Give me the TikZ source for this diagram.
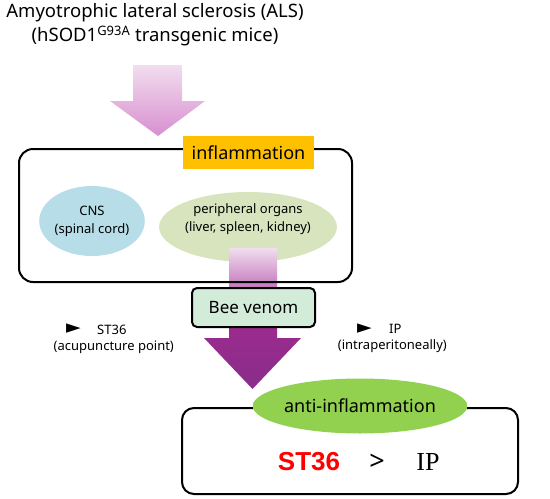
\documentclass[tikz,border=0pt]{standalone}
\usepackage{fontspec}
\setmainfont{Noto Sans}
\newfontfamily\symfont{DejaVu Sans}
\newfontfamily\ipfont{Liberation Serif}
\newfontfamily\boldfont{Liberation Sans}
\usepackage{xcolor}
\usepackage{tikz}
\usetikzlibrary{positioning,shapes.geometric}

\definecolor{labelorange}{HTML}{FFC000}
\definecolor{cnsblue}{HTML}{B7DDE8}
\definecolor{organgreen}{HTML}{D7E4BD}
\definecolor{beegreen}{HTML}{D3ECD9}
\definecolor{antigreen}{HTML}{92D050}
\definecolor{pinktop}{HTML}{F2DDEF}
\definecolor{pinkbot}{HTML}{D78FD0}
\definecolor{pinkmid}{HTML}{BE6CB6}
\definecolor{violettop}{HTML}{A42A90}
\definecolor{violetbot}{HTML}{8A2D8A}
\definecolor{stred}{HTML}{FF0000}

\tikzset{
  frame/.style={draw,line width=2pt,rounded corners=14pt},
  organ/.style={ellipse,inner sep=0pt,align=center,font=\fontsize{13}{18}\selectfont},
  smalltext/.style={font=\fontsize{13}{16}\selectfont},
  marker/.style={font=\symfont\fontsize{19}{19}\selectfont}
}

\begin{document}
\begin{tikzpicture}[x=1pt,y=-1pt,every node/.style={inner sep=0pt,align=center}]
    \useasboundingbox (0,0) rectangle (550,499);
    % title
    \node[font=\fontsize{18.5}{24}\selectfont] (title) at (155,25)
      {Amyotrophic lateral sclerosis (ALS)\\(hSOD1\textsuperscript{G93A} transgenic mice)};
    \shade[top color=pinktop,bottom color=pinkbot]
      (133,65) -- (182,65) -- (182,101) -- (205,101) -- (158,136) -- (110,101) -- (133,101) -- cycle;
    % inflammation
    \node[organ,fill=cnsblue,minimum width=102,minimum height=70] (cns) at (92,221)
      {CNS\\(spinal cord)};
    \node[organ,fill=organgreen,minimum width=175,minimum height=70] (periph) at (248,227)
      {peripheral organs\\(liver, spleen, kidney)\\[1pt]};
    \shade[top color=pinktop,bottom color=pinkmid]
      (229,248) -- (277,248) -- (277,292) -- (229,292) -- cycle;
    \shade[top color=violettop,bottom color=violetbot]
      (229,290) -- (277,290) -- (277,338) -- (301,338) -- (252.5,389) -- (204,338) -- (229,338) -- cycle;
    \node[frame,minimum width=333,minimum height=133] (inflam) at (185.5,215.5) {};
    \node[fill=labelorange,minimum width=131,minimum height=33,
      font=\fontsize{18}{18}\selectfont] (inflamlabel) at (248.5,152.5) {inflammation};
    % treatment
    \node[draw,line width=2pt,rounded corners=5pt,fill=beegreen,minimum width=123,minimum height=39,
      font=\fontsize{17}{17}\selectfont] (bv) at (253.5,307.5) {Bee venom};
    \node[marker] (markst) at (73.5,329) {►};
    \node[smalltext,anchor=west] (st) at (97,330) {ST36};
    \node[smalltext,below=6pt of st.south,xshift=2pt] (stsub) {(acupuncture point)};
    \node[marker] (markip) at (364.5,329) {►};
    \node[smalltext,anchor=west] (ip) at (389,329) {IP};
    \node[smalltext,below=6pt of ip.south,xshift=-3pt] (ipsub) {(intraperitoneally)};
    % result
    \node[frame,rounded corners=12pt,minimum width=336,minimum height=86] (result) at (350,451) {};
    \node[ellipse,fill=antigreen,minimum width=210,minimum height=55,
      font=\fontsize{18}{18}\selectfont] (anti) at (360,406) {anti-inflammation};
    \node[text=stred,font=\boldfont\bfseries\fontsize{26}{26}\selectfont] (best) at (309,462) {ST36};
    \node[font=\fontsize{27}{27}\selectfont] (gt) at (377,462) {>};
    \node[font=\ipfont\fontsize{26}{26}\selectfont] (worse) at (428,462) {IP};
  \end{tikzpicture}
\end{document}
